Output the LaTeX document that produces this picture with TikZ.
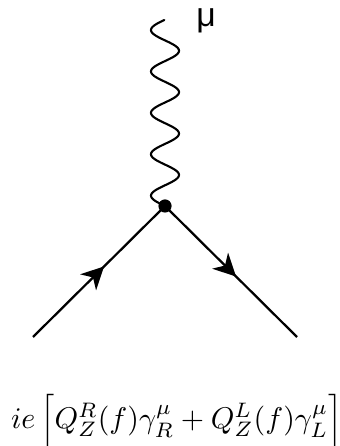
\documentclass[tikz,border=0pt]{standalone}
\usepackage{amsmath}
\usepackage{fontspec}
\newfontfamily\labelfont{Liberation Sans}
\usetikzlibrary{arrows.meta,decorations.markings}
\tikzset{
  fermion/.style={line width=1.6pt,decoration={markings,
    mark=at position 0.54 with {\arrow{Stealth[length=5.6mm,width=5.6mm,inset=1.7mm]}}},postaction={decorate}},
  boson/.style={line width=1.5pt,line cap=round,domain=0:4.65,samples=240,smooth},
  vertexdot/.style={circle,fill=black,inner sep=0pt,minimum size=0.33cm}
}
\begin{document}
\begin{tikzpicture}
  \useasboundingbox (0,0) rectangle (8.5,11.15);
  \node[vertexdot] (vertex) at (4.125,6.0) {};
  \coordinate (in) at (0.825,2.725);
  \coordinate (out) at (7.425,2.725);
  \draw[boson] plot ({4.125-0.35*sin(\x*360/1.035)},{6.0+\x});
  \draw[fermion] (in) -- (vertex.center);
  \draw[fermion] (vertex.center) -- (out);
  \node[inner sep=0pt] (mulabel) at (5.15,10.62) {\fontsize{24}{24}\labelfont μ};
  \node[scale=2.13,inner sep=0pt] (coupling) at (4.42,0.62) {$ie\left[\vphantom{\Big[}Q_Z^R(f)\gamma_R^\mu+Q_Z^L(f)\gamma_L^\mu\right]$};
\end{tikzpicture}
\end{document}
